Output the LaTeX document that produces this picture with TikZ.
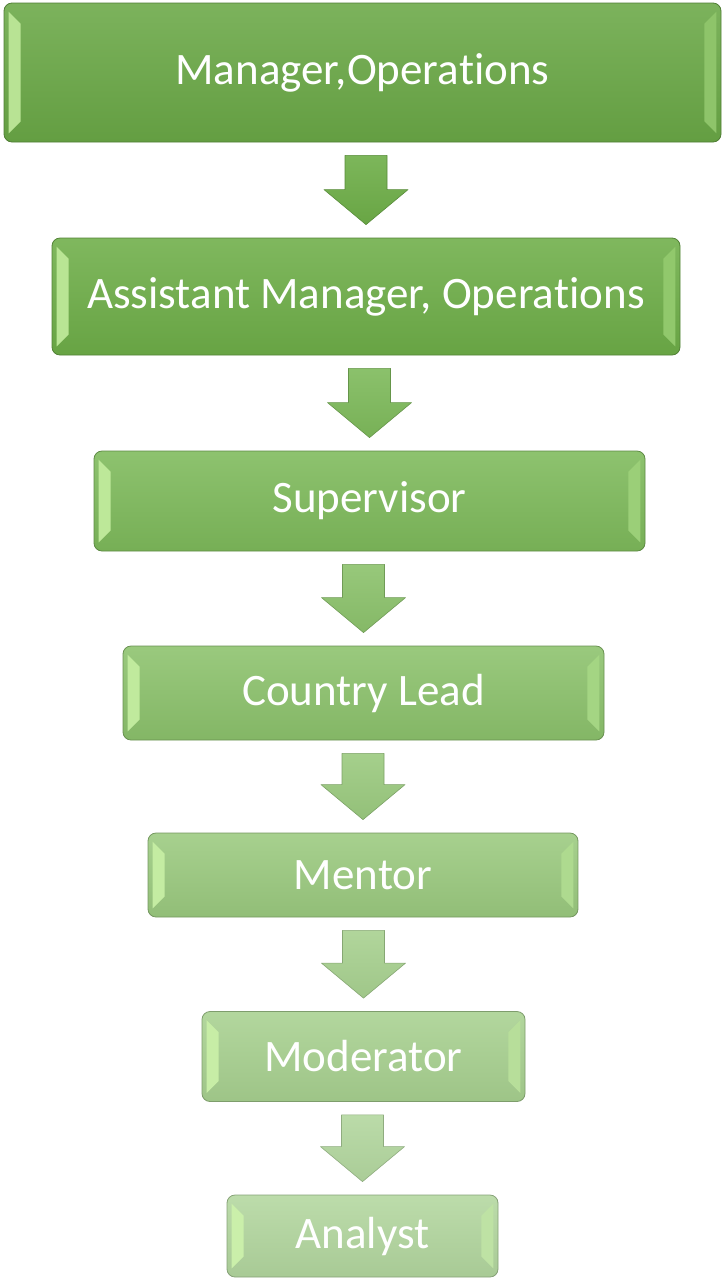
\documentclass[tikz,border=0pt]{standalone}
\usepackage{fontspec}
\setmainfont[Ligatures={NoCommon}]{Carlito}
\usetikzlibrary{calc}
\definecolor{g1}{HTML}{6AA846}
\definecolor{g2}{HTML}{6EAE48}
\definecolor{g3}{HTML}{7EBA5B}
\definecolor{g4}{HTML}{8CC26C}
\definecolor{g5}{HTML}{9BCA7F}
\definecolor{g6}{HTML}{A8D190}
\definecolor{g7}{HTML}{B3D79F}
\definecolor{bev}{HTML}{D2F7AE}
\tikzset{
  orgbox/.style={draw=#1!75!black, line width=0.8pt, rounded corners=8pt,
    top color=#1!88!white, bottom color=#1!94!black, inner sep=0pt,
    text=white, font=\fontsize{45}{50}\selectfont},
  bevlight/.style={fill=bev!75!#1, draw=none},
  bevright/.style={fill=bev!35!#1, draw=none},
  blockarrow/.style={draw=#1!80!black, line width=0.6pt, top color=#1!90!white, bottom color=#1!95!black, line join=round}
}
\newcommand\bevels[2]{%
  \fill[bevlight=#2] ($(#1.north west)+(5,9)$) -- ($(#1.north west)+(17,21)$) -- ($(#1.south west)+(17,-21)$) -- ($(#1.south west)+(5,-9)$) -- cycle;
  \fill[bevright=#2] ($(#1.north east)+(-5,9)$) -- ($(#1.north east)+(-17,21)$) -- ($(#1.south east)+(-17,-21)$) -- ($(#1.south east)+(-5,-9)$) -- cycle;
}
\newcommand\barrow[3]{%
  \coordinate (#1-#2-t) at ($(#2.north |- #1.south)+(0,13)$);
  \coordinate (#1-#2-h) at ($(#2.north)+(0,-48)$);
  \coordinate (#1-#2-p) at ($(#2.north)+(0,-13)$);
  \draw[blockarrow=#3] ($(#1-#2-t)+(-21,0)$) -- ($(#1-#2-t)+(21,0)$) -- ($(#1-#2-h)+(21,0)$) -- ($(#1-#2-h)+(42,0)$) -- (#1-#2-p) -- ($(#1-#2-h)+(-42,0)$) -- ($(#1-#2-h)+(-21,0)$) -- cycle;
}
\begin{document}
\begin{tikzpicture}[x=1pt,y=-1pt]
\useasboundingbox (0,0) rectangle (723,1278);
\node[orgbox=g1, minimum width=717pt, minimum height=139pt] (b1) at (362.5,72.5) {Manager,Opera\kern0pt tions};
\node[orgbox=g2, minimum width=628pt, minimum height=117pt] (b2) at (366,296.5) {Assistant Manager, Opera\kern0pt tions};
\node[orgbox=g3, minimum width=551pt, minimum height=100pt] (b3) at (369.5,501) {Supervisor};
\node[orgbox=g4, minimum width=481pt, minimum height=94pt] (b4) at (363.5,693) {Country Lead};
\node[orgbox=g5, minimum width=430pt, minimum height=84pt] (b5) at (363,875) {Mentor};
\node[orgbox=g6, minimum width=323pt, minimum height=90pt] (b6) at (363.5,1056.5) {Moderator};
\node[orgbox=g7, minimum width=271pt, minimum height=82pt] (b7) at (362.5,1236) {Analyst};
\bevels{b1}{g1}
\bevels{b2}{g2}
\bevels{b3}{g3}
\bevels{b4}{g4}
\bevels{b5}{g5}
\bevels{b6}{g6}
\bevels{b7}{g7}
\barrow{b1}{b2}{g2}
\barrow{b2}{b3}{g3}
\barrow{b3}{b4}{g4}
\barrow{b4}{b5}{g5}
\barrow{b5}{b6}{g6}
\barrow{b6}{b7}{g7}
\end{tikzpicture}
\end{document}
